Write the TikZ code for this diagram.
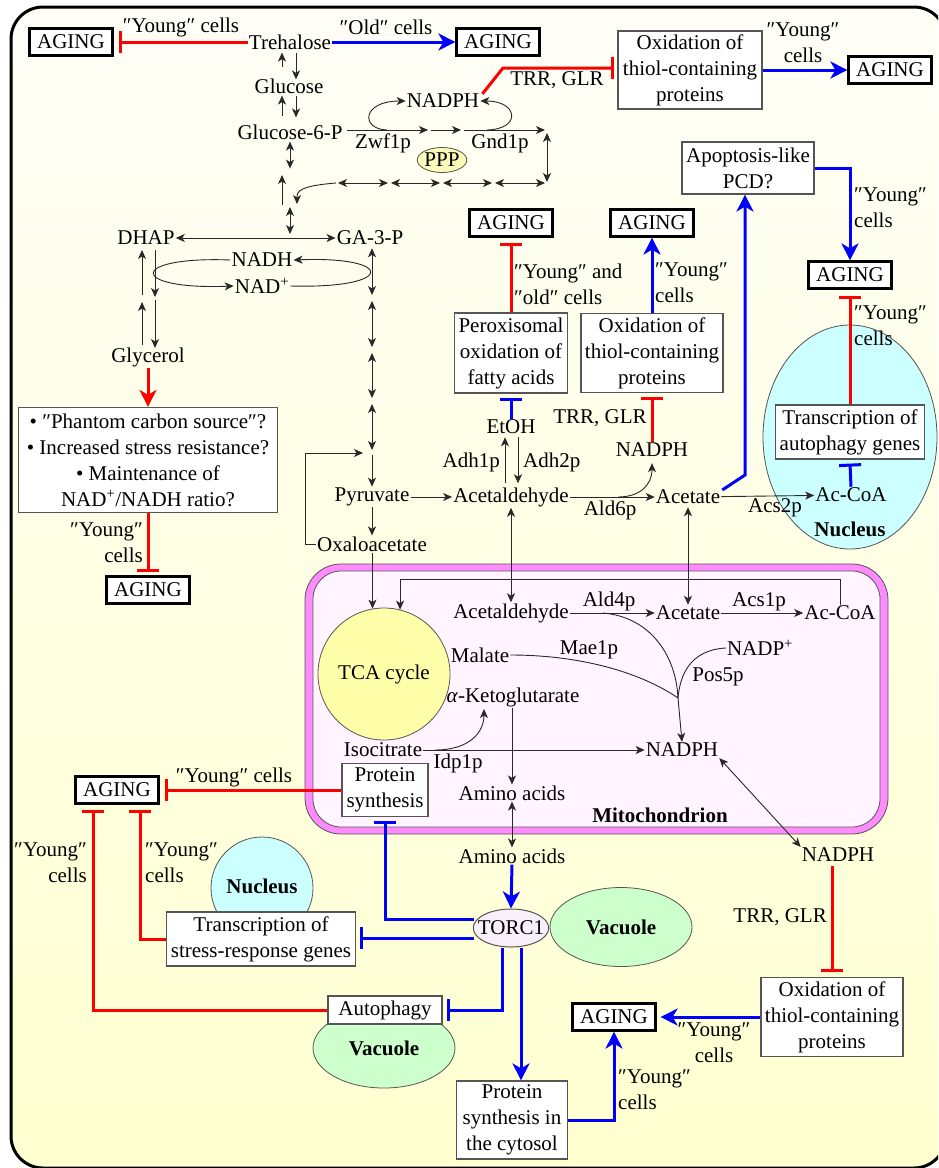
\documentclass[tikz,border=0pt]{standalone}
\usepackage{fontspec}
\setmainfont{Liberation Serif}
\usetikzlibrary{arrows.meta,calc,shapes.geometric}
\definecolor{pred}{RGB}{255,0,0}
\definecolor{pblue}{RGB}{0,0,255}
\definecolor{boxgray}{RGB}{85,85,85}
\definecolor{arrgray}{RGB}{40,40,40}
\definecolor{bgtop}{RGB}{254,254,247}
\definecolor{bgbot}{RGB}{255,255,208}
\definecolor{mitoband}{RGB}{255,140,255}
\definecolor{mitoin}{RGB}{255,244,255}
\definecolor{tcay}{RGB}{255,255,170}
\definecolor{pppy}{RGB}{250,250,185}
\definecolor{nucc}{RGB}{204,255,255}
\definecolor{vacg}{RGB}{204,255,204}
\definecolor{torcc}{RGB}{250,240,252}
\tikzset{
  every node/.style={font=\fontsize{21}{26}\selectfont, inner sep=1pt},
  agebox/.style={draw=black, line width=2.2pt, fill=white, minimum width=83pt, minimum height=27pt, inner sep=0pt},
  tbox/.style={draw=boxgray, line width=1.2pt, fill=white, align=center, inner sep=0pt},
  lab/.style={align=center},
  labl/.style={align=left, anchor=west},
  labr/.style={align=right, anchor=east},
  blkl/.style={draw=arrgray, line width=0.9pt},
  ar/.style={blkl, -{Stealth[length=9pt,width=8pt,inset=2.5pt]}},
  dar/.style={blkl, {Stealth[length=9pt,width=8pt,inset=2.5pt]}-{Stealth[length=9pt,width=8pt,inset=2.5pt]}},
  barr/.style={draw=pblue, line width=3pt, -{Stealth[length=17pt,width=17pt,inset=5pt]}},
  binh/.style={draw=pblue, line width=3pt, -{Bar[width=22pt]}},
  rinh/.style={draw=pred, line width=3pt, -{Bar[width=22pt]}},
  rarr/.style={draw=pred, line width=3pt, -{Stealth[length=17pt,width=17pt,inset=5pt]}},
  bfnode/.style={font=\fontsize{21}{26}\selectfont\bfseries},
  compart/.style={draw=boxgray, line width=0.8pt},
}
\begin{document}
\begin{tikzpicture}[x=1pt,y=-1pt]
\useasboundingbox (0,0) rectangle (938,1168);
\clip (0,0) rectangle (938,1168);
% background cell
\shade[top color=bgtop, bottom color=bgbot, rounded corners=32pt] (11,7) rectangle (946,1168);
\draw[line width=3pt, rounded corners=32pt] (11,7) rectangle (946,1168);
% mitochondrion
\draw[compart, fill=mitoband, rounded corners=36pt] (305,564) rectangle (888,834);
\draw[compart, fill=mitoin, rounded corners=28pt] (313,571) rectangle (880,827);
% compartments
\node[ellipse, compart, fill=nucc, minimum width=174pt, minimum height=224pt, inner sep=0pt] (nucbig) at (850,437) {};
\node[circle, compart, fill=nucc, minimum size=102pt, inner sep=0pt] (nucsmall) at (262,888) {};
\node[bfnode] (nuc2lab) at (262,886) {Nucleus};
\node[ellipse, compart, fill=vacg, minimum width=142pt, minimum height=79pt, inner sep=0pt, bfnode] (vac1) at (621,927) {Vacuole};
\node[ellipse, compart, fill=vacg, minimum width=142pt, minimum height=80pt, inner sep=0pt, bfnode] (vac2) at (384,1048) {};
\node[bfnode] (vac2lab) at (384,1048) {Vacuole};
\node[circle, compart, fill=tcay, minimum size=132pt, inner sep=0pt] (tca) at (384,674) {TCA cycle};

% ---------------- top row
\node[agebox] (ag1) at (71,42) {AGING};
\node (tre) at (290,42) {Trehalose};
\node[agebox] (ag2) at (498,42) {AGING};
\node[tbox, minimum width=144pt, minimum height=78pt] (ox1) at (690,70) {Oxidation of\\thiol-containing\\proteins};
\node[agebox] (ag3) at (890,70) {AGING};
\node (l1) at (181,27) {″Young″ cells};
\node (l2) at (386,27) {″Old″ cells};
\node[lab] (l3) at (803,43) {″Young″\\cells};
\node (trr1) at (557,80) {TRR, GLR};

\draw[rinh] (tre.west) -- ($(ag1.east)+(5,0)$);
\draw[barr] (tre.east) -- (ag2.west);
\draw[barr] (ox1.east) -- (ag3.west);
\node (nadph1) at (443,101) {NADPH};
\coordinate (r1) at (503,68);
\draw[rinh] ($(nadph1.north east)+(2,1)$) -- (r1) -- ($(ox1.west|-r1)+(-3,0)$);

% glucose ladder
\node (glc) at (289,86) {Glucose};
\node (g6p) at (290,132) {Glucose-6-P};
\draw[ar] ($(glc.north)+(-7,-10)$) -- ($(tre.south)+(-8,2)$);
\draw[ar] ($(tre.south)+(6,2)$) -- ($(glc.north)+(7,2)$);
\draw[ar] ($(g6p.north)+(-8,-7)$) -- ($(glc.south)+(-7,1)$);
\draw[ar] ($(glc.south)+(7,1)$) -- ($(g6p.north)+(6,-6)$);

% PPP
\node (zwf) at (383,143) {Zwf1p};
\node (gnd) at (500,143) {Gnd1p};
\node[ellipse, draw=boxgray, line width=0.8pt, fill=pppy, minimum width=47pt, minimum height=25pt, inner sep=0pt] (ppp) at (442,160) {PPP};
\coordinate (p1) at (428,130);
\coordinate (p2) at (461,130);
\coordinate (p3) at (545,130);
\draw[ar] ($(g6p.east|-p1)+(3,0)$) -- (p1);
\draw[ar] ($(p1)+(3,0)$) -- (p2);
\draw[ar] ($(p2)+(3,0)$) -- (p3);
\draw[ar] (387,130) .. controls (360,129) and (362,101) .. (nadph1.west);
\draw[ar] (487,130) .. controls (522,129) and (518,101) .. (nadph1.east);
\coordinate (q0) at (336,183);
\draw[dar] ($(p3)+(2,3)$) -- ($(p3)+(2,52)$);
\foreach \a/\b in {338/388, 391/440, 443/492, 495/545} \draw[dar] (\a,183) -- (\b,183);
\draw[ar] (q0) .. controls (312,185) and (297,188) .. (297,196) -- (297,204);
\draw[dar] ($(g6p.south)+(0,1)$) -- ++(0,27);
\draw[ar] (282,205) -- (282,175);
\draw[dar] (290,207) -- (290,234);

% DHAP / GA-3-P
\node (dhap) at (146,238) {DHAP};
\node (ga3p) at (370,238) {GA-3-P};
\draw[dar] (dhap.east) -- (ga3p.west);
\node (nadh) at (262,260) {NADH};
\node (nadp) at (262,286) {NAD\textsuperscript{+}};
\draw[ar] (nadh.west) .. controls (128,256) and (128,290) .. (nadp.west);
\draw[ar] (nadp.east) .. controls (396,289) and (396,256) .. (nadh.east);
\node (glyc) at (148,357) {Glycerol};
\draw[ar] (142,295) -- (142,250);
\draw[ar] (142,345) -- (142,302);
\draw[ar] (155,250) -- (155,297);
\draw[ar] (155,300) -- (155,348);
\node[tbox, minimum width=259pt, minimum height=105pt] (gbox) at (148,460) {• ″Phantom carbon source″?\\• Increased stress resistance?\\• Maintenance of\\NAD\textsuperscript{+}/NADH ratio?};
\draw[rarr] (148,368) -- (gbox.north);
\node[agebox] (ag4) at (148,590) {AGING};
\draw[rinh] (gbox.south) -- ($(ag4.north)+(0,-3)$);
\node[labr] (l4) at (144,543) {″Young″\\cells};

% main column
\coordinate (v1) at (372,298);
\coordinate (v2) at (372,350);
\coordinate (v3) at (372,401);
\coordinate (v4) at (372,453);
\draw[dar, shorten <=2pt, shorten >=3pt] (ga3p.south -| v1) -- (v1);
\draw[dar, shorten <=3pt, shorten >=3pt] (v1) -- (v2);
\draw[dar, shorten <=3pt, shorten >=3pt] (v2) -- (v3);
\draw[dar, shorten <=3pt, shorten >=3pt] (v3) -- (v4);
\node (pyr) at (372,497) {Pyruvate};
\draw[ar, shorten <=2pt] (v4) -- (pyr);
\node (oxa) at (372,544) {Oxaloacetate};
\draw[ar] (pyr) -- (oxa);
\draw[ar, shorten >=9pt] (oxa.west) -- ++(-11,0) |- (v4);
\draw[ar] (oxa.south -| tca.100) -- (tca.100);

% acetaldehyde branch
\node (acald) at (511,497) {Acetaldehyde};
\draw[ar] (pyr) -- (acald);
\node (etoh) at (511,427) {EtOH};
\draw[ar] ($(acald.north)+(-6,-3)$) -- ($(etoh.south)+(-6,2)$);
\draw[ar] ($(etoh.south)+(7,2)$) -- ($(acald.north)+(7,-3)$);
\node[labr] (adh1) at (501,462) {Adh1p};
\node[labl] (adh2) at (522,462) {Adh2p};
\node[tbox, minimum width=113pt, minimum height=80pt] (perox) at (511,353) {Peroxisomal\\oxidation of\\fatty acids};
\draw[binh] (etoh.north) -- ($(perox.south)+(0,4)$);
\node[agebox] (ag5) at (511,223) {AGING};
\draw[rinh] (perox.north) -- ($(ag5.south)+(0,5)$);
\node[labl] (l5) at (513,284) {″Young″ and\\″old″ cells};

\node[tbox, minimum width=142pt, minimum height=79pt] (ox2) at (652,353) {Oxidation of\\thiol-containing\\proteins};
\node[agebox] (ag6) at (652,223) {AGING};
\draw[barr] (ox2.north) -- (ag6.south);
\node[labl] (l6) at (654,283) {″Young″\\cells};
\node (nadph2) at (652,450) {NADPH};
\draw[rinh] (nadph2.north) -- ($(ox2.south)+(0,4)$);
\node (trr2) at (600,418) {TRR, GLR};

\node (acet) at (688,497) {Acetate};
\draw[ar] (acald) -- (acet);
\node (ald6) at (610,510) {Ald6p};
\draw[ar] (618,497) .. controls (640,497) and (652,485) .. ($(nadph2.south)+(0,5)$);

\node[tbox, minimum width=132pt, minimum height=52pt] (apop) at (748,168) {Apoptosis-like\\PCD?};
\coordinate (ab) at (745,475);
\draw[barr] ($(acet.east)+(1,-7)$) -- (ab) -- (ab |- apop.south);
\node[agebox] (ag7) at (850,275) {AGING};
\draw[barr] (apop.east) -- (apop.east -| ag7) -- (ag7.north);
\node[labl] (l7) at (853,208) {″Young″\\cells};

\node[tbox, minimum width=149pt, minimum height=54pt] (trauto) at (850,432) {Transcription of\\autophagy genes};
\draw[rinh] (trauto.north) -- ($(ag7.south)+(0,6)$);
\node[labl] (l8) at (853,326) {″Young″\\cells};
\node (accoa1) at (851,495) {Ac-CoA};
\draw[binh] (accoa1.north) -- ($(trauto.south)+(0,4)$);
\node[bfnode] (nuc1) at (850,529) {Nucleus};
\draw[ar] (acet) -- (accoa1);
\node (acs2) at (775,508) {Acs2p};

% mitochondrion content
\node (acald2) at (511,613) {Acetaldehyde};
\draw[dar] (acald.south) -- (acald2.north);
\node (acet2) at (688,613) {Acetate};
\draw[dar] ($(acet.south)+(0,2)$) -- (acet2.north);
\draw[ar] (acald2) -- (acet2);
\node (ald4) at (609,601) {Ald4p};
\node (accoa2) at (840,613) {Ac-CoA};
\draw[ar] (acet2) -- (accoa2);
\node (acs1) at (759,602) {Acs1p};
\draw[ar] (accoa2.north) -- ++(0,-25) -| (tca.76);

\node (malate) at (480,655) {Malate};
\node (mae1) at (589,650) {Mae1p};
\node (akg) at (513,697) {\textit{α}-Ketoglutarate};
\node (isoc) at (383,750) {Isocitrate};
\node (idp1) at (458,763) {Idp1p};
\node (nadph3) at (682,750) {NADPH};
\node (nadpp) at (760,648) {NADP\textsuperscript{+}};
\node (pos5) at (718,677) {Pos5p};
\coordinate (mrg) at (678,698);
\draw[blkl] (malate.east) .. controls (580,655) and (640,672) .. (mrg);
\draw[blkl] (603,613) .. controls (650,617) and (676,655) .. (mrg);
\draw[blkl] (nadpp.west) .. controls (690,650) and (680,675) .. (mrg);
\draw[ar] (mrg) -- (nadph3.north);
\draw[ar] (435,750) .. controls (470,750) and (484,732) .. (484,709);
\draw[ar] (isoc.east) -- (nadph3.west);
\node (aa1) at (512,793) {Amino acids};
\node (aa2) at (512,856) {Amino acids};
\draw[ar] (akg.south -| aa1.north) -- (aa1.north);
\draw[dar] (aa1.south) -- (aa2.north);
\node[bfnode] (mito) at (660,815) {Mitochondrion};
\node[tbox, minimum width=86pt, minimum height=53pt] (psyn) at (385,790) {Protein\\synthesis};

% NADPH outside
\node (nadph4) at (838,855) {NADPH};
\draw[dar] (nadph3.south east) -- (nadph4.north west);
\node[tbox, minimum width=142pt, minimum height=79pt] (ox3) at (832,1017) {Oxidation of\\thiol-containing\\proteins};
\draw[rinh] ($(ox3.north |- nadph4.south)+(0,3)$) -- ($(ox3.north)+(0,-5)$);
\node[anchor=east] (trr3) at (828,917) {TRR, GLR};
\node[agebox] (ag8) at (614,1017) {AGING};
\draw[barr] (ox3.west) -- ($(ag8.east)+(4,0)$);
\node[lab] (l9) at (714,1043) {″Young″\\cells};
\node[tbox, minimum width=111pt, minimum height=78pt] (pcyt) at (512,1120) {Protein\\synthesis in\\the cytosol};
\draw[barr] (pcyt.east) -- (pcyt.east -| ag8) -- (ag8.south);
\node[labl] (l10) at (617,1090) {″Young″\\cells};

% TORC1
\node[ellipse, draw=boxgray, line width=1pt, fill=torcc, inner xsep=-6.4pt, inner ysep=5pt, minimum height=38pt] (torc) at (511,928) {TORC1};
\draw[barr] (aa2.south) -- (torc.north);
\node[tbox, minimum width=189pt, minimum height=54pt] (trstress) at (261,939) {Transcription of\\stress-response genes};
\node[tbox, minimum width=114pt, minimum height=28pt] (autoph) at (385,1010) {Autophagy};
\node[agebox] (ag9) at (117,790) {AGING};
\coordinate (tw1) at (474,919);
\coordinate (tw2) at (474,938);
\coordinate (tb1) at (502,948);
\coordinate (tb2) at (521,948);
\draw[binh] (tw1) -- (psyn.south |- tw1) -- ($(psyn.south)+(0,4)$);
\draw[binh] (tw2) -- ($(trstress.east)+(4,-1)$);
\draw[binh] (tb1) -- (tb1 |- autoph) -- ($(autoph.east)+(4,0)$);
\draw[barr] (tb2) -- (tb2 |- pcyt.north);

\draw[rinh] (psyn.west) -- ($(ag9.east)+(5,0)$);
\node (l11) at (234,777) {″Young″ cells};
\draw[rinh] (trstress.west) -| ($(ag9.south)+(23,5)$);
\draw[rinh] (autoph.west) -| ($(ag9.south)+(-24,5)$);
\node[labl] (l12) at (144,863) {″Young″\\cells};
\node[labr] (l13) at (88,863) {″Young″\\cells};
\end{tikzpicture}
\end{document}
